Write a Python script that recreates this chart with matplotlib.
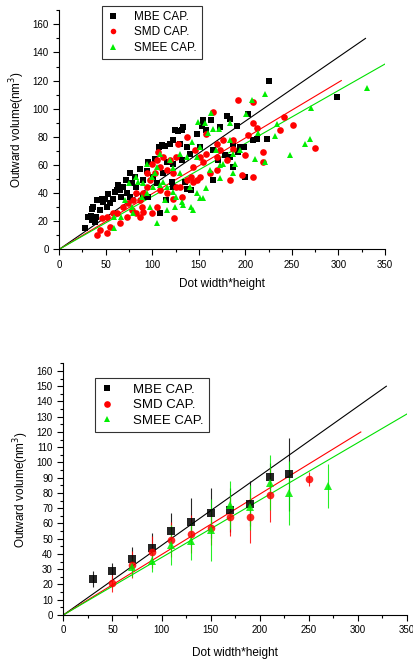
import numpy as np
import matplotlib.pyplot as plt
from matplotlib.ticker import MultipleLocator
from matplotlib.lines import Line2D

plt.rcParams['font.family'] = ['Liberation Sans', 'DejaVu Sans']

# top panel: raw dots (width*height, volume)
mbe_x = [27.6, 30.5, 33.7, 34.8, 36.5, 35, 40, 41, 45.5, 47, 49, 52.7, 54.5, 58, 60, 63.4, 61.6, 66,
         69, 71.7, 76, 77.7, 81, 86.7, 83, 90, 94, 95.6, 101, 102.8, 104.6, 107.5, 110, 113.6, 115.4,
         119, 122.5, 124.3, 128, 131.5, 133.3, 129.7, 135, 137, 142, 147.6, 151, 154.8, 153, 158,
         163.6, 165.5, 172.7, 180, 183, 187, 190.6, 194, 198, 203, 199.6, 208.5, 212, 222.8, 225.7,
         298, 108, 115, 122.5, 90, 95.6, 76, 72.4, 65, 51, 44, 38, 137, 140, 120.7, 112, 122.5, 131.5,
         171, 183, 187, 192.4, 165.5, 178]
mbe_y = [15.4, 23, 23.7, 28.4, 30, 21, 22.7, 35, 35.5, 34, 36, 39, 33, 36, 41, 46, 42, 37.4,
         44.5, 49, 54, 47, 51.6, 56.8, 44.5, 49, 56, 62, 51.6, 64, 47, 73, 74, 73.4, 62,
         75, 77.6, 84.7, 84.3, 84.7, 87, 75, 48, 43, 42, 82, 73, 92, 88, 85,
         92, 49, 87, 95, 93, 75, 87.6, 73, 73, 96.6, 51.6, 77.6, 78.8, 78.8, 120,
         108.4, 25.6, 35, 44.5, 37, 37.4, 37.4, 40, 42, 30, 28, 19.6, 73, 68, 48, 54, 61, 63.4,
         63.4, 66, 58.7, 69, 70.5, 67]

smd_x = [41, 44, 51.6, 45.5, 51, 54.5, 58, 61.6, 65, 69, 72.4, 74, 77.7, 79.5, 83, 86.7, 88.5, 90,
         94, 97.5, 99.6, 103, 106.4, 108, 111.8, 115.4, 119, 122.5, 123.6, 128, 126, 131.5, 137,
         142, 144, 145.7, 147.6, 151, 154.8, 158, 162, 165.5, 169, 172.7, 180, 183, 187, 192.4,
         196, 199.6, 203, 208, 208.5, 208.5, 212, 219, 237, 241.5, 250.8, 275, 219,
         90, 99.6, 104.6, 108, 115.4, 122.5, 129.7, 137, 144, 86.7, 83, 94, 104.6, 126, 151, 158,
         169, 176, 187, 169]
smd_y = [10.2, 13.7, 11.4, 22, 23.2, 16, 25.6, 25.6, 18.5, 30, 23.2, 32.7, 28, 35, 25.6, 23, 30, 39.8,
         44.5, 49, 61, 54, 69, 58.7, 65.8, 56.3, 63.4, 54, 22, 75, 44.5, 37.4, 80,
         51.6, 58.7, 70.5, 49, 51.6, 62, 68, 54, 97.7, 56.3, 70.5, 63.4, 49, 71.7, 106.5,
         52.8, 67, 81, 105, 89.5, 51.6, 86, 62, 84.7, 94, 88.3, 72.2, 69,
         26.7, 25.6, 30, 42, 39.8, 36, 44.5, 49, 48, 35, 39.8, 54, 63.4, 65.8, 65.8, 82,
         75, 77.6, 77.6, 65.8]

smee_x = [58.8, 66, 70.6, 77.7, 79.5, 83, 85, 88.5, 94, 97.5, 103, 104.6, 104.6, 108, 112, 113.6,
          115.4, 119, 122.5, 124.3, 126, 129.7, 131.5, 133, 137, 140, 142, 144, 143, 147.6, 149,
          151, 154.8, 156.6, 158, 160, 162, 163.6, 165.5, 168, 172.7, 172, 176, 183, 183, 187,
          188.8, 194, 201, 207, 210.4, 214, 221, 221, 232, 233.6, 248, 264, 269, 270.5, 330.3,
          94, 101, 122.5, 108, 99.6, 129.7, 147.6, 151, 187, 172.7, 115.4, 75.3, 90, 59.4]
smee_y = [15, 23.2, 35, 30, 25.6, 51.6, 48, 37.4, 39.8, 30, 54, 18.5, 58.7, 45.7, 48, 35,
          28, 63.4, 57.5, 30, 37.4, 54, 33.8, 31.5, 65.8, 44.5, 30, 28, 76.4, 39.8, 90.6,
          36.2, 36.2, 89.5, 43.3, 82.4, 56.3, 97, 85.9, 70.5, 50.4, 85.9, 61, 77.6, 89.5, 54,
          61, 70.5, 96.6, 106, 64, 82.4, 110.8, 62.2, 80.5, 88.8, 67, 74.8, 78.8, 100.8, 115,
          61, 44.5, 41, 68, 51.6, 68, 65.8, 73, 68, 60, 44.5, 47, 47, 23.2]

# bottom panel: binned means with std
mbe_bx = [30, 50, 70, 90, 110, 130, 150, 170, 190, 210, 230]
mbe_by = [23.6, 28.6, 36.9, 43.7, 55.4, 61.3, 66.8, 68.8, 73.1, 90.6, 92.3]
mbe_be = [5, 5.8, 8, 9.8, 11.2, 15.7, 16.2, 14.2, 14.5, 9.2, 23.8]

smd_bx = [50, 70, 90, 110, 130, 150, 170, 190, 210, 250]
smd_by = [20.7, 33, 41.5, 49.5, 53, 56.8, 64.4, 64.4, 78.6, 89.3]
smd_be = [5.4, 9, 10.4, 11.2, 12.4, 11, 12.8, 17, 17.8, 4.7]

smee_bx = [70, 90, 110, 130, 150, 170, 190, 210, 230, 270]
smee_by = [31.2, 35.5, 45.8, 48.7, 55.7, 72.3, 70.5, 86.7, 80, 84.5]
smee_be = [6, 7.5, 13.2, 12.5, 20.4, 15.8, 15, 18, 21, 14.2]

# linear fits through origin: slope, end x
fits = [(150 / 329, 329, 'black'), (120 / 303, 303, 'red'), (131.8 / 350, 350, '#00e000')]

names = ['MBE CAP.', 'SMD CAP.', 'SMEE CAP.']
cols = ['black', 'red', '#00ee00']
mks = ['s', 'o', '^']

fig = plt.figure(figsize=(4.14, 6.64), dpi=100)


def style(ax, ytop, ymaj, ymin):
    ax.set_xlim(0, 350)
    ax.set_ylim(0, ytop)
    ax.spines['top'].set_visible(False)
    ax.spines['right'].set_visible(False)
    ax.xaxis.set_major_locator(MultipleLocator(50))
    ax.xaxis.set_minor_locator(MultipleLocator(25))
    ax.yaxis.set_major_locator(MultipleLocator(ymaj))
    ax.yaxis.set_minor_locator(MultipleLocator(ymin))
    ax.tick_params(which='major', length=4, width=0.8, labelsize=7, direction='out')
    ax.tick_params(which='minor', length=2.5, width=0.8, direction='out')
    ax.set_ylabel('Outward volume(nm$^3$)', fontsize=8.5)
    for s, xe, c in fits:
        xs = np.array([0, xe])
        ax.plot(xs, s * xs, color=c, lw=0.8, zorder=1)


def proxies(ms):
    return [Line2D([], [], ls='none', marker=m, color=c, ms=ms, mew=0) for c, m in zip(cols, mks)]


ax1 = fig.add_axes([0.143, 0.6245, 0.787, 0.36])
for xs, ys, c, m in zip([mbe_x, smd_x, smee_x], [mbe_y, smd_y, smee_y], cols, mks):
    ax1.plot(xs, ys, ls='none', marker=m, color=c, ms=4.8, mew=0, zorder=2)
style(ax1, 170, 20, 10)
ax1.set_xlabel('Dot width*height', fontsize=8.5, labelpad=6)
leg = ax1.legend(proxies(4), names, loc='upper left', bbox_to_anchor=(0.13, 1.02), fontsize=8.5,
                 frameon=True, fancybox=False, edgecolor='black', handlelength=1, handletextpad=1.3,
                 borderpad=0.45, labelspacing=0.3, borderaxespad=0)
leg.get_frame().set_linewidth(0.8)

ax2 = fig.add_axes([0.153, 0.0738, 0.830, 0.379])
for xs, ys, es, c, m in zip([mbe_bx, smd_bx, smee_bx], [mbe_by, smd_by, smee_by],
                            [mbe_be, smd_be, smee_be], cols, mks):
    ax2.errorbar(xs, ys, yerr=es, ls='none', marker=m, color=c, ms=5.5, mew=0, ecolor=c,
                 elinewidth=0.8, capsize=2.5, capthick=0.8, alpha=0.85, zorder=2)
style(ax2, 165, 10, 5)
ax2.set_xlabel('Dot width*height', fontsize=8.5, labelpad=8)
leg = ax2.legend(proxies(4.8), names, loc='upper left', bbox_to_anchor=(0.0925, 0.941), fontsize=9.5,
                 frameon=True, fancybox=False, edgecolor='black', handlelength=1, handletextpad=1.5,
                 borderpad=0.4, labelspacing=0.25, borderaxespad=0)
leg.get_frame().set_linewidth(0.8)

fig.savefig('out.png', dpi=100)
